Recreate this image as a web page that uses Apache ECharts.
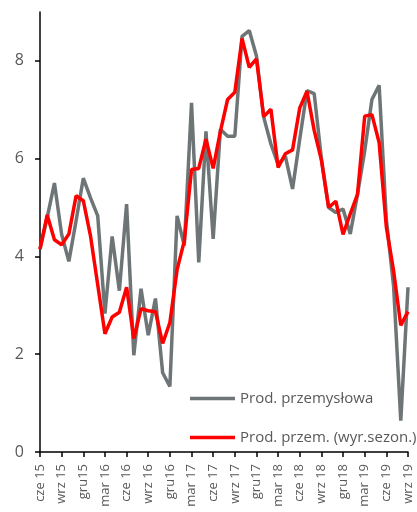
<!DOCTYPE html>
<html>
<head>
<meta charset="utf-8">
<script src="https://cdn.jsdelivr.net/npm/echarts@6/dist/echarts.min.js"></script>
<style>
html,body{margin:0;padding:0;background:#fff;}
#c{width:417px;height:512px;}
</style>
</head>
<body>
<div id="c"></div>
<script>
var categories = [
  "cze 15","lip 15","sie 15","wrz 15","paź 15","lis 15","gru15",
  "sty 16","lut 16","mar 16","kwi 16","maj 16","cze 16","lip 16","sie 16","wrz 16","paź 16","lis 16","gru16",
  "sty 17","lut 17","mar 17","kwi 17","maj 17","cze 17","lip 17","sie 17","wrz 17","paź 17","lis 17","gru17",
  "sty 18","lut 18","mar 18","kwi 18","maj 18","cze 18","lip 18","sie 18","wrz 18","paź 18","lis 18","gru18",
  "sty 19","lut 19","mar 19","kwi 19","maj 19","cze 19","lip 19","sie 19","wrz 19"
];
var seriesNames = ["Prod. przemysłowa", "Prod. przem. (wyr.sezon.)"];
var prodRaw = [
  4.15,4.8,5.5,4.45,3.9,4.73,5.6,
  5.2,4.83,2.83,4.41,3.3,5.07,1.98,3.34,2.39,3.14,1.62,1.34,
  4.83,4.22,7.14,3.88,6.56,4.36,6.6,6.46,6.46,8.5,8.62,8.1,
  6.85,6.3,5.88,6.05,5.38,6.4,7.39,7.33,6.0,5.0,4.9,4.97,
  4.46,5.27,6.16,7.21,7.5,4.75,3.4,0.64,3.37
];
var prodSA = [
  4.15,4.85,4.34,4.24,4.46,5.24,5.14,
  4.42,3.42,2.42,2.76,2.86,3.37,2.32,2.93,2.89,2.87,2.22,2.65,
  3.73,4.32,5.78,5.8,6.4,5.8,6.56,7.21,7.36,8.46,7.87,8.04,
  6.86,7.01,5.82,6.1,6.18,7.04,7.38,6.58,5.97,5.0,5.13,4.45,
  4.87,5.27,6.87,6.9,6.33,4.6,3.71,2.59,2.87
];
var yTicks = [0,2,4,6,8];

var chart = echarts.init(document.getElementById('c'), null, {renderer:'canvas'});
var txt = '#595959';
var grayC = '#6e7576';
var redC = '#ff0000';
chart.setOption({
  animation:false,
  backgroundColor:'#fff',
  textStyle:{fontFamily:'Open Sans'},
  grid:{left:40, right:9, top:12, bottom:60, containLabel:false},
  legend:{
    orient:'vertical', left:190, top:391, padding:0,
    itemWidth:45, itemHeight:3.5, itemGap:24,
    textStyle:{color:txt, fontSize:15, fontFamily:'Open Sans'},
    data:[
      {name:seriesNames[0], icon:'rect', itemStyle:{color:grayC}},
      {name:seriesNames[1], icon:'rect', itemStyle:{color:redC}}
    ]
  },
  xAxis:{
    type:'category', data:categories, boundaryGap:false,
    axisLine:{lineStyle:{color:'#000', width:1.5}},
    axisTick:{interval:2, length:5, lineStyle:{color:'#000', width:1.5}},
    axisLabel:{interval:2, rotate:90, margin:12, color:txt, fontSize:13, fontFamily:'Open Sans'}
  },
  yAxis:{
    type:'value', min:0, max:9, interval:1,
    splitLine:{show:false},
    axisLine:{show:true, lineStyle:{color:'#000', width:1.5}},
    axisTick:{show:true, length:5, customValues:yTicks, lineStyle:{color:'#000', width:1.5}},
    axisLabel:{customValues:yTicks, margin:16, color:txt, fontSize:16, fontFamily:'Open Sans'}
  },
  series:[
    {name:seriesNames[0], type:'line', data:prodRaw, symbol:'none',
     lineStyle:{color:grayC, width:3.5}, itemStyle:{color:grayC}, z:2},
    {name:seriesNames[1], type:'line', data:prodSA, symbol:'none',
     lineStyle:{color:redC, width:3.5}, itemStyle:{color:redC}, z:3}
  ]
});
</script>
</body>
</html>
